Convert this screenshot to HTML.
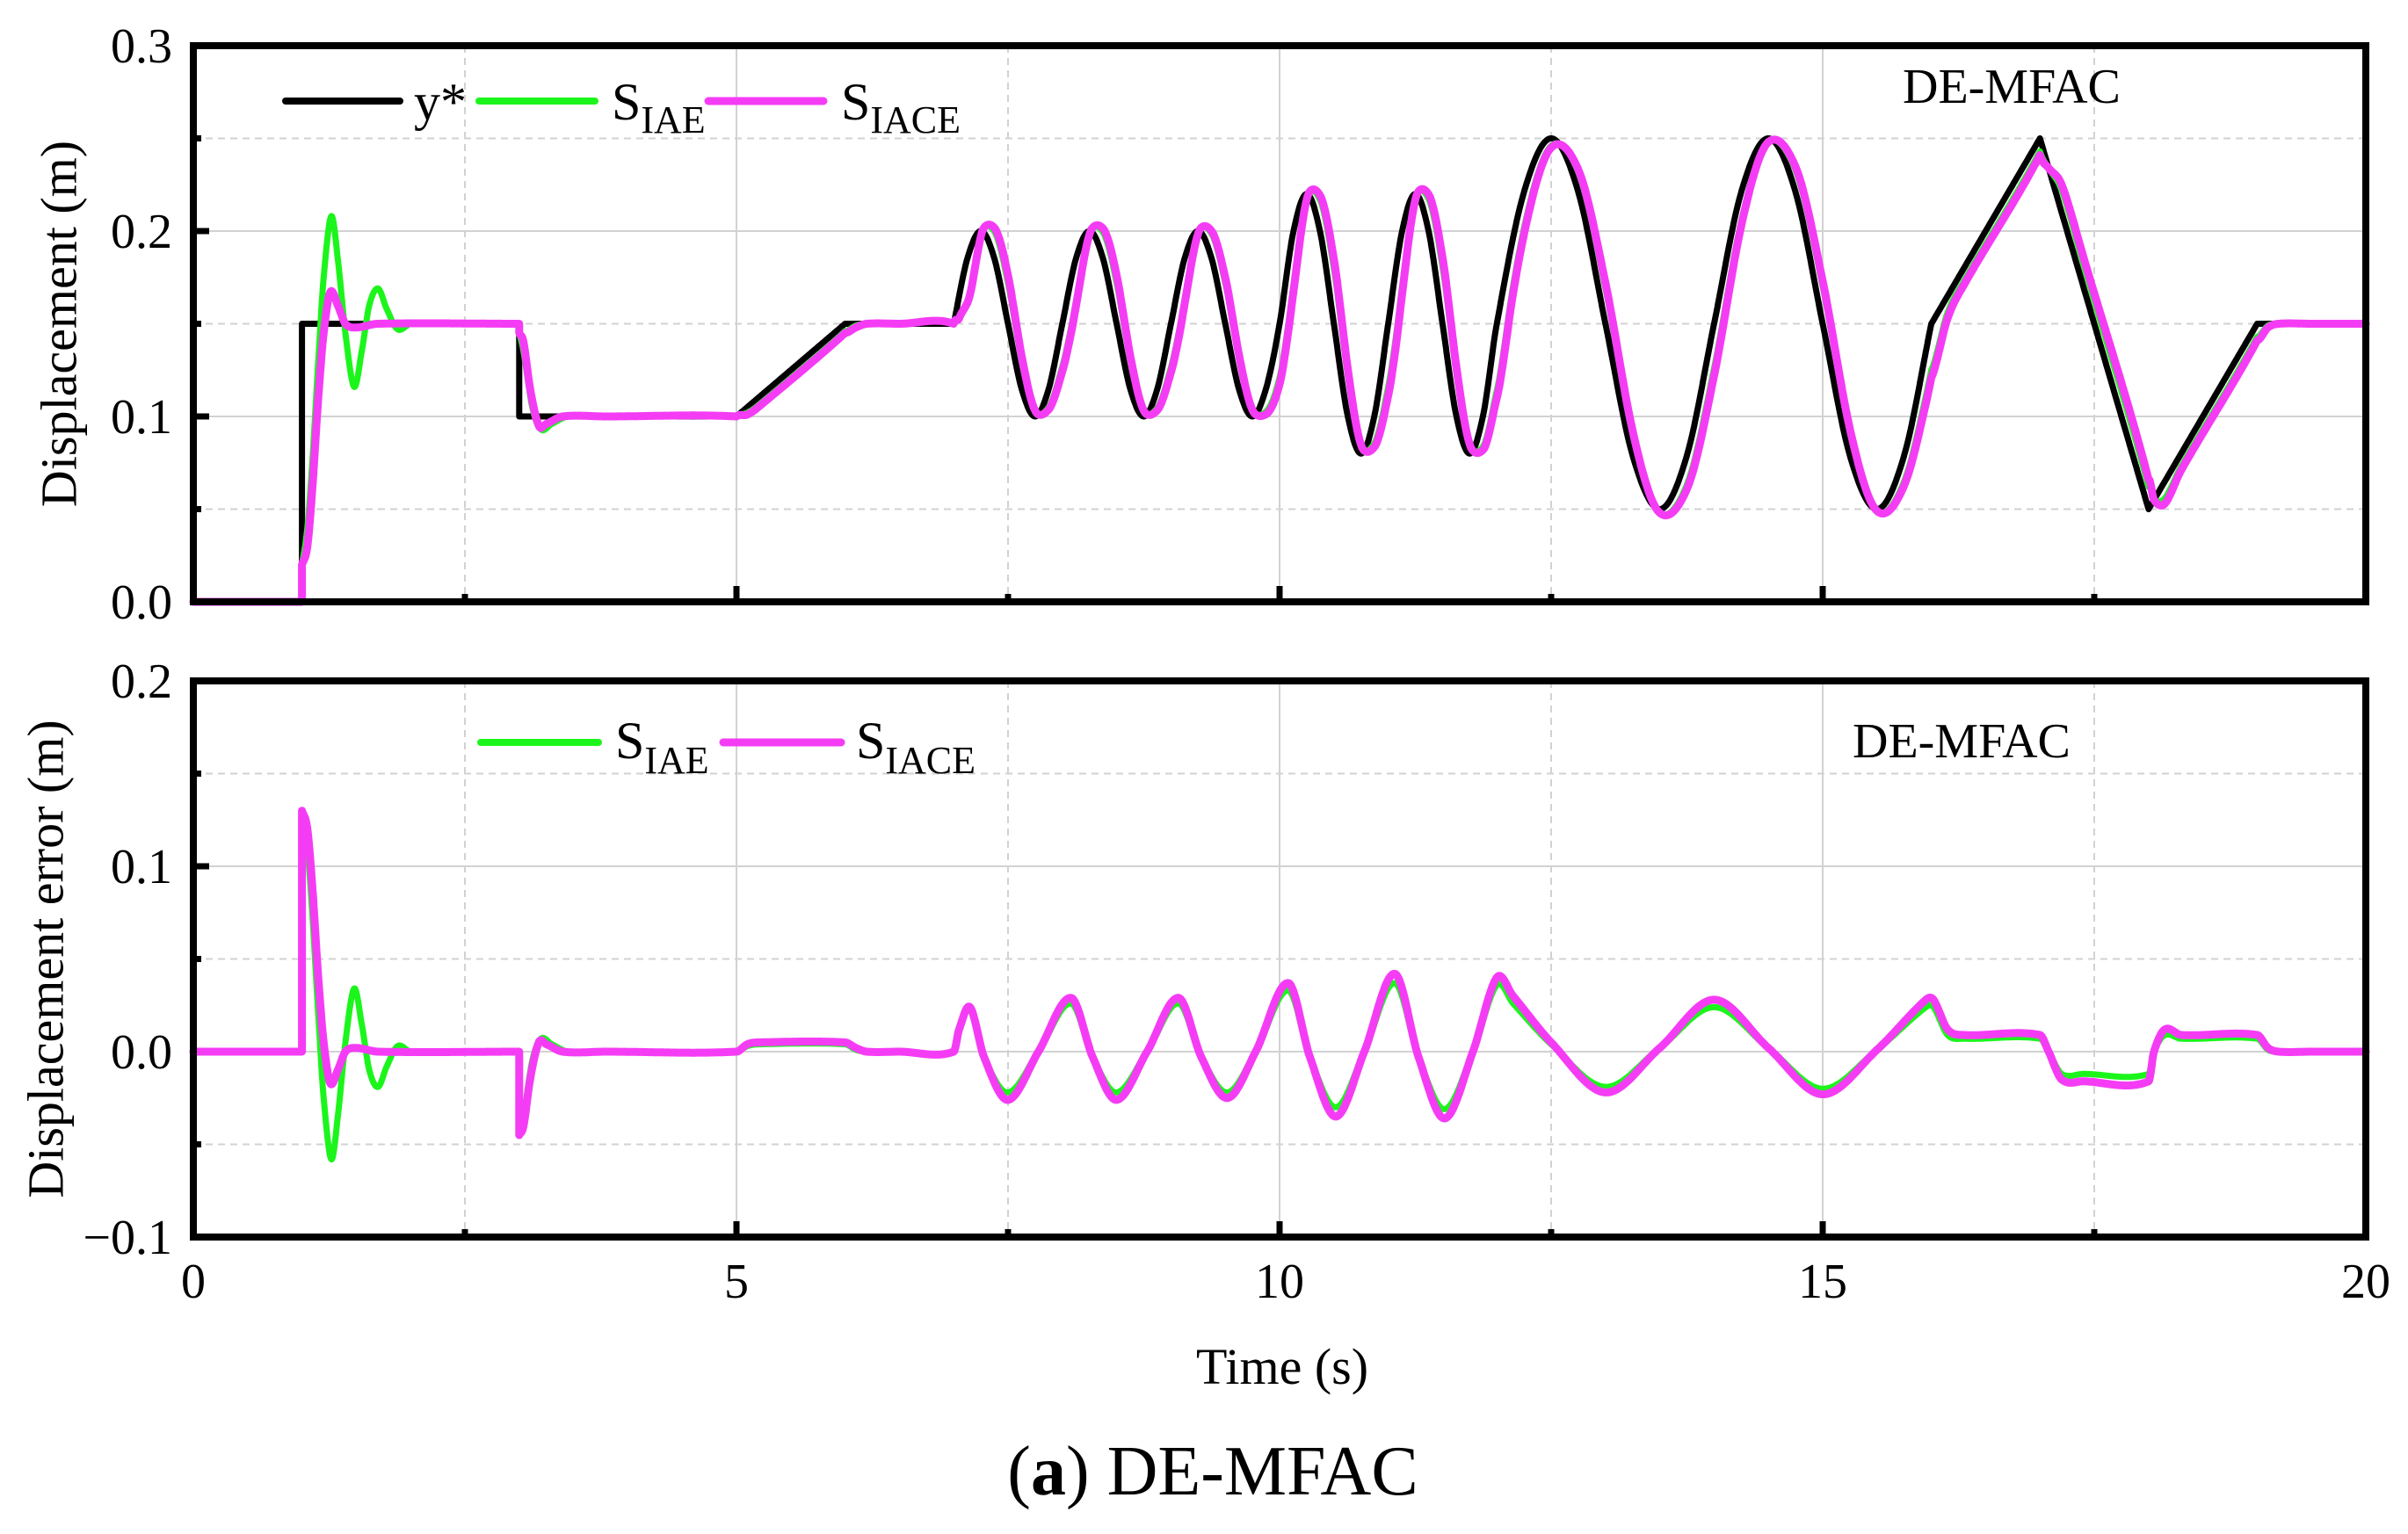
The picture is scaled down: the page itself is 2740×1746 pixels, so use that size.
<!DOCTYPE html>
<html><head><meta charset="utf-8"><style>
html,body{margin:0;padding:0;background:#fff;}
svg{display:block;font-family:"Liberation Serif","Times New Roman",serif;}
</style></head><body>
<svg id="fig" width="2740" height="1746" viewBox="0 0 2740 1746" xmlns="http://www.w3.org/2000/svg">
<rect x="0" y="0" width="2740" height="1746" fill="#fff"/>
<g id="top"></g>
<g id="bot"></g>
<text x="1459" y="1575" font-size="58" text-anchor="middle">Time (s)</text>
<text x="1380" y="1701" font-size="80" text-anchor="middle">(<tspan font-weight="bold">a</tspan>) DE-MFAC</text>
</svg>
<script>
// ---- data: reference trajectory y* knots ----
const refT = [0,1,1,3,3,5,5,6,6,7,7,
 7.125,7.25,7.375,7.5,7.625,7.75,7.875,8,
 8.125,8.25,8.375,8.5,8.625,8.75,8.875,9,
 9.125,9.25,9.375,9.5,9.625,9.75,9.875,10,
 10.125,10.25,10.375,10.5,10.625,10.75,10.875,11,
 11.125,11.25,11.375,11.5,11.625,11.75,11.875,12,
 12.25,12.5,12.75,13,13.25,13.5,13.75,14,
 14.25,14.5,14.75,15,15.25,15.5,15.75,16,16,17,17,18,18,19,19,20];
const refV = [0,0,0.15,0.15,0.1,0.1,0.1,0.15,0.15,0.15,0.15,
 0.185,0.2,0.185,0.15,0.115,0.1,0.115,0.15,
 0.185,0.2,0.185,0.15,0.115,0.1,0.115,0.15,
 0.185,0.2,0.185,0.15,0.115,0.1,0.115,0.15,
 0.199,0.22,0.199,0.15,0.101,0.08,0.101,0.15,
 0.199,0.22,0.199,0.15,0.101,0.08,0.101,0.15,
 0.221,0.25,0.221,0.15,0.079,0.05,0.079,0.15,
 0.221,0.25,0.221,0.15,0.079,0.05,0.079,0.15,0.15,0.25,0.25,0.05,0.05,0.15,0.15,0.15];
// ---- data: tracking error of S_IACE (magenta) ----
const errIaceT = [0,1,1,1.05,1.1,1.15,1.2,1.26,1.33,1.4,1.5,1.7,3,3,3.04,3.1,3.18,3.25,3.4,3.8,5,5.1,5.2,6,6.1,6.2,6.5,7,7.05,7.15,7.28,7.5,7.78,8.08,8.28,8.5,8.78,9.07,9.28,9.52,9.78,10.08,10.28,10.52,10.78,11.06,11.28,11.52,11.78,12.0,12.15,12.5,13.0,13.5,14.0,14.5,15.0,15.5,15.95,16.02,16.15,16.3,17.0,17.08,17.2,17.4,18.0,18.05,18.15,18.3,19.0,19.1,19.2,19.5,20];
const errIaceV = [0,0,0.13,0.12,0.085,0.04,0.005,-0.017,-0.01,0,0.002,0,0,-0.045,-0.04,-0.015,0.005,0.004,0,0,0,0.004,0.005,0.005,0.002,0,0,0,0.012,0.024,-0.003,-0.026,0,0.029,-0.003,-0.026,0,0.029,-0.003,-0.025,0,0.037,-0.003,-0.035,0,0.042,-0.003,-0.036,0,0.04,0.03,0.005,-0.022,0.002,0.028,0.002,-0.023,0.001,0.028,0.028,0.012,0.009,0.009,0,-0.015,-0.016,-0.016,0,0.012,0.009,0.009,0.002,0,0,0];
// ---- data: tracking error of S_IAE (green) ----
const errIaeT = [0,1,1,1.05,1.1,1.15,1.2,1.27,1.33,1.4,1.48,1.55,1.62,1.7,1.78,1.88,2.0,2.4,3,3,3.04,3.12,3.2,3.3,3.45,3.8,5,5.1,5.2,6,6.1,6.2,6.5,7,7.05,7.15,7.28,7.5,7.78,8.08,8.28,8.5,8.78,9.07,9.28,9.52,9.78,10.08,10.28,10.52,10.78,11.06,11.28,11.52,11.78,12.0,12.15,12.5,13.0,13.5,14.0,14.5,15.0,15.5,15.95,16.02,16.15,16.3,17.0,17.08,17.2,17.4,18.0,18.05,18.15,18.3,19.0,19.1,19.2,19.5,20];
const errIaeV = [0,0,0.13,0.11,0.07,0.02,-0.025,-0.058,-0.035,0.005,0.034,0.015,-0.01,-0.019,-0.008,0.003,0,0,0,-0.045,-0.035,-0.005,0.007,0.004,0,0,0,0.003,0.004,0.004,0.001,0,0,0,0.012,0.023,-0.003,-0.022,0,0.026,-0.003,-0.022,0,0.026,-0.003,-0.022,0,0.033,-0.003,-0.03,0,0.037,-0.003,-0.031,0,0.036,0.026,0.004,-0.019,0.002,0.024,0.002,-0.02,0.001,0.024,0.024,0.009,0.007,0.007,0,-0.012,-0.012,-0.012,0,0.009,0.007,0.007,0.001,0,0,0];
// ---- tick labels ----
const xTicks = [0,5,10,15,20];
const topYTicks = [0.0,0.1,0.2,0.3];
const botYTicks = [-0.1,0.0,0.1,0.2];
const topYLabels = ["0.0","0.1","0.2","0.3"];
const botYLabels = ["\u22120.1","0.0","0.1","0.2"];

const NS="http://www.w3.org/2000/svg";
const L=220,R=2692;
const xs=t=>L+(t/20)*(R-L);
const TOP={y0:685,y1:52,min:0,max:0.3};
const BOT={y0:1408,y1:775,min:-0.1,max:0.2};
const ys=(P,v)=>P.y0-(v-P.min)/(P.max-P.min)*(P.y0-P.y1);

function mk(tag,attrs,parent){const e=document.createElementNS(NS,tag);for(const k in attrs)e.setAttribute(k,attrs[k]);parent.appendChild(e);return e;}

function evalS(T,V,t,side){
  const n=T.length;let i=-1;
  for(let k=0;k<n-1;k++){
    if(T[k]<T[k+1]){
      if(side==='L'? (t>T[k]&&t<=T[k+1]) : (t>=T[k]&&t<T[k+1])){i=k;break;}
    }
  }
  if(i<0){ if(t<=T[0])return V[0]; return V[n-1]; }
  const h=T[i+1]-T[i];
  let m0,m1;
  if(i-1>=0&&T[i-1]<T[i]) m0=(V[i+1]-V[i-1])/(T[i+1]-T[i-1]); else m0=(V[i+1]-V[i])/h;
  if(i+2<n&&T[i+2]>T[i+1]) m1=(V[i+2]-V[i])/(T[i+2]-T[i]); else m1=(V[i+1]-V[i])/h;
  const s=(t-T[i])/h,s2=s*s,s3=s2*s;
  return (2*s3-3*s2+1)*V[i]+(s3-2*s2+s)*h*m0+(-2*s3+3*s2)*V[i+1]+(s3-s2)*h*m1;
}
function samples(){
  const set=new Set();
  for(let k=0;k<=5000;k++)set.add(+(k*0.004).toFixed(4));
  [refT,errIaceT,errIaeT].forEach(a=>a.forEach(t=>set.add(t)));
  const arr=[...set].sort((a,b)=>a-b);const out=[];
  arr.forEach(t=>{out.push([t,'L']);out.push([t,'R']);});
  return out;
}
const S=samples();
function pathFor(fn,P){
  let d='';S.forEach((s,k)=>{const v=fn(s[0],s[1]);d+=(k?'L':'M')+xs(s[0]).toFixed(1)+','+ys(P,v).toFixed(1);});return d;
}

function axes(g,P,yt,yl,minorY,titleText,titleX,xLabels){
  for(let t=0;t<=20;t+=2.5){
    if(t===0||t===20)continue;
    const major=(t%5===0);
    const ln=mk('line',{x1:xs(t),x2:xs(t),y1:P.y1,y2:P.y0,stroke:'#d2d2d2','stroke-width':2},g);
    if(!major)ln.setAttribute('stroke-dasharray','8,6');
    
    
  }
  yt.forEach(v=>{if(v===P.min||v===P.max)return;
    const ln=mk('line',{x1:L,x2:R,y1:ys(P,v),y2:ys(P,v),stroke:'#d2d2d2','stroke-width':2},g);
    
    });
  minorY.forEach(v=>{
    const ln=mk('line',{x1:L,x2:R,y1:ys(P,v),y2:ys(P,v),stroke:'#d2d2d2','stroke-width':2,'stroke-dasharray':'8,6'},g);
    
    
    const tk=mk('line',{x1:L,x2:L+9,y1:ys(P,v),y2:ys(P,v),stroke:'#000','stroke-width':7},g);
    
    
  });
  yt.forEach((v,k)=>{
    const tk=mk('line',{x1:L,x2:L+18,y1:ys(P,v),y2:ys(P,v),stroke:'#000','stroke-width':7},g);
    
    
    const tx=mk('text',{x:196,y:ys(P,v)+19,'font-size':56,'text-anchor':'end'},g);
    tx.textContent=yl[k];
    
    
  });
  for(let t=2.5;t<20;t+=2.5){
    const major=(t%5===0);
    const tk=mk('line',{x1:xs(t),x2:xs(t),y1:P.y0,y2:P.y0-(major?18:9),stroke:'#000','stroke-width':7},g);
    
    
  }
  if(xLabels){
    xTicks.forEach(t=>{
      const tx=mk('text',{x:xs(t),y:1477,'font-size':56,'text-anchor':'middle'},g);
      tx.textContent=String(t);
      
      
    });
  }
  const cy=(P.y0+P.y1)/2;
  const tt=mk('text',{x:titleX,y:cy,'font-size':58,'text-anchor':'middle',transform:`rotate(-90 ${titleX} ${cy})`,'dominant-baseline':'central'},g);
  tt.textContent=titleText;
  
  
}
function frame(g,P){
  const f=mk('rect',{x:L,y:P.y1,width:R-L,height:P.y0-P.y1,fill:'none',stroke:'#000','stroke-width':8},g);
  
  
}
function series(g,P,fn,color,w,name){
  const p=mk('path',{d:pathFor(fn,P),fill:'none',stroke:color,'stroke-width':w,'stroke-linejoin':'round','stroke-linecap':'round'},g);
  
  
}
function legendItem(g,x1,x2,y,color,w,label,sub,tx,base,subBase,name){
  const gi=mk('g',{},g);
  
  
  mk('line',{x1:x1,x2:x2,y1:y,y2:y,stroke:color,'stroke-width':w,'stroke-linecap':'round'},gi);
  const t=mk('text',{x:tx,y:base,'font-size':60},gi);
  t.textContent=label;
  if(sub){const ts=mk('tspan',{'font-size':44,dy:subBase-base},t);ts.textContent=sub;}
}

const gT=document.getElementById('top');
axes(gT,TOP,topYTicks,topYLabels,[0.05,0.15,0.25],'Displacement (m)',67,false);
series(gT,TOP,(t,s)=>evalS(refT,refV,t,s),'#000',7,'series-y-star');
series(gT,TOP,(t,s)=>evalS(refT,refV,t,s)-evalS(errIaeT,errIaeV,t,s),'#1cf51c',7,'series-s-iae');
series(gT,TOP,(t,s)=>evalS(refT,refV,t,s)-evalS(errIaceT,errIaceV,t,s),'#f53cf5',9,'series-s-iace');
frame(gT,TOP);
legendItem(gT,325,455,115,'#000',8,'y*',null,471,136,0,'legend-entry-y-star');
legendItem(gT,545,677,115,'#1cf51c',8,'S','IAE',696,136,151,'legend-entry-s-iae');
legendItem(gT,806,937,115,'#f53cf5',9,'S','IACE',957,136,151,'legend-entry-s-iace');
(function(){const t=mk('text',{x:2165,y:117,'font-size':56},gT);t.textContent='DE-MFAC';

})();

const gB=document.getElementById('bot');
axes(gB,BOT,botYTicks,botYLabels,[-0.05,0.05,0.15],'Displacement error (m)',52,true);
series(gB,BOT,(t,s)=>evalS(errIaeT,errIaeV,t,s),'#1cf51c',7,'series-error-s-iae');
series(gB,BOT,(t,s)=>evalS(errIaceT,errIaceV,t,s),'#f53cf5',9,'series-error-s-iace');
frame(gB,BOT);
legendItem(gB,547,681,845,'#1cf51c',8,'S','IAE',700,863,880,'legend-entry-error-s-iae');
legendItem(gB,823,957,845,'#f53cf5',9,'S','IACE',974,863,880,'legend-entry-error-s-iace');
(function(){const t=mk('text',{x:2108,y:862,'font-size':56},gB);t.textContent='DE-MFAC';

})();
</script>
</body></html>
